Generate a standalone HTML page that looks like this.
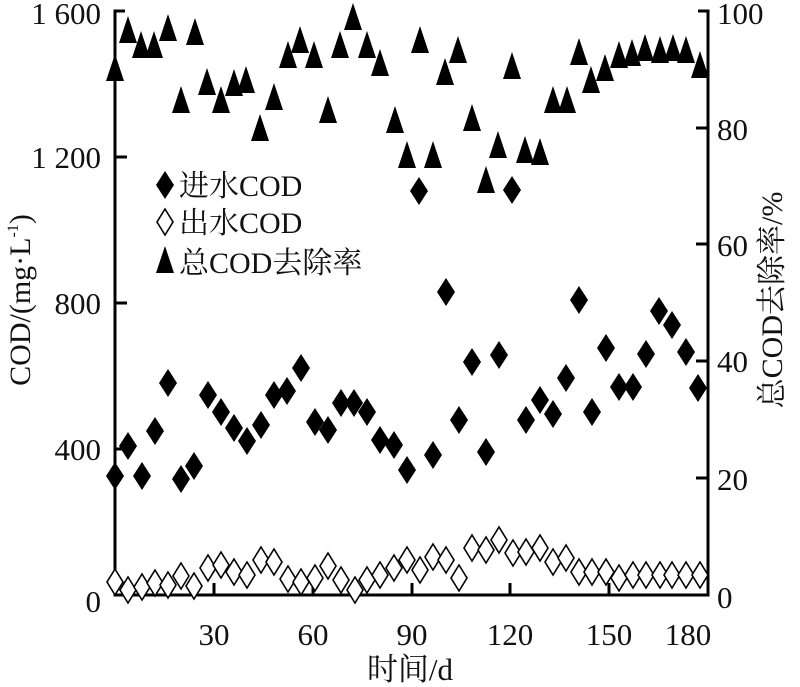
<!DOCTYPE html>
<html><head><meta charset="utf-8"><style>
body{margin:0;background:#fff;}
svg{display:block;}
text{font-family:"Liberation Serif","Noto Serif CJK SC",serif;fill:#111;}
</style></head><body>
<svg width="800" height="687" viewBox="0 0 800 687" xmlns="http://www.w3.org/2000/svg">
<defs>
<path id="fd" d="M0,-14 L9,0 L0,14 L-9,0 Z" fill="#000"/>
<path id="od" d="M0,-13 L8,0 L0,13 L-8,0 Z" fill="#fff" stroke="#000" stroke-width="1.6"/>
<path id="tr" d="M0,-14 L9,13 L-9,13 Z" fill="#000"/>
</defs>
<g stroke="#000" stroke-width="3" fill="none">
<path d="M125,11 L115,11 L115,595 L708,595 L708,11 L698,11"/>
<path d="M115,157 L127,157 M115,303 L127,303 M115,449 L127,449"/>
<path d="M708,128 L696,128 M708,244 L696,244 M708,361 L696,361 M708,478 L696,478"/>
<path d="M214,595 L214,583 M313,595 L313,583 M412,595 L412,583 M510,595 L510,583 M609,595 L609,583"/>
</g>
<g font-size="31" text-anchor="end">
<text x="101" y="24">1 600</text><text x="101" y="168">1 200</text>
<text x="101" y="314">800</text><text x="101" y="460">400</text><text x="101" y="612">0</text>
</g>
<g font-size="31">
<text x="717" y="24">100</text><text x="717" y="140">80</text><text x="717" y="256">60</text>
<text x="717" y="372">40</text><text x="717" y="490">20</text><text x="717" y="608">0</text>
</g>
<g font-size="31" text-anchor="middle">
<text x="214" y="645">30</text><text x="313" y="645">60</text><text x="412" y="645">90</text>
<text x="510" y="645">120</text><text x="609" y="645">150</text><text x="688" y="645">180</text>
<text x="410" y="680">时间/d</text>
</g>
<text font-size="30" text-anchor="middle" transform="translate(30,300) rotate(-90)">COD/(mg·L<tspan font-size="16" dy="-12">-1</tspan><tspan dy="12">)</tspan></text>
<text font-size="30" text-anchor="middle" transform="translate(782,300) rotate(-90)">总COD去除率/%</text>
<g>
<use href="#fd" x="165" y="185"/><use href="#od" x="165" y="222"/><use href="#tr" x="165" y="260"/>
</g>
<g font-size="30"><text x="179" y="196">进水COD</text><text x="179" y="233">出水COD</text><text x="179" y="273">总COD去除率</text></g>
<g>
<use href="#tr" x="115" y="68"/><use href="#tr" x="128" y="30"/><use href="#tr" x="141" y="45"/><use href="#tr" x="154" y="45"/><use href="#tr" x="168" y="28"/><use href="#tr" x="181" y="100"/><use href="#tr" x="195" y="32"/><use href="#tr" x="207" y="82"/><use href="#tr" x="221" y="100"/><use href="#tr" x="234" y="83"/><use href="#tr" x="246" y="80"/><use href="#tr" x="260" y="128"/><use href="#tr" x="274" y="97"/><use href="#tr" x="288" y="55"/><use href="#tr" x="300" y="40"/><use href="#tr" x="314" y="55"/><use href="#tr" x="328" y="110"/><use href="#tr" x="340" y="45"/><use href="#tr" x="353" y="17"/><use href="#tr" x="367" y="45"/><use href="#tr" x="380" y="63"/><use href="#tr" x="395" y="120"/><use href="#tr" x="407" y="155"/><use href="#tr" x="420" y="40"/><use href="#tr" x="433" y="155"/><use href="#tr" x="445" y="72"/><use href="#tr" x="458" y="50"/><use href="#tr" x="472" y="118"/><use href="#tr" x="486" y="180"/><use href="#tr" x="498" y="145"/><use href="#tr" x="512" y="66"/><use href="#tr" x="525" y="150"/><use href="#tr" x="540" y="152"/><use href="#tr" x="553" y="100"/><use href="#tr" x="567" y="100"/><use href="#tr" x="579" y="52"/><use href="#tr" x="591" y="80"/><use href="#tr" x="605" y="68"/><use href="#tr" x="619" y="55"/><use href="#tr" x="632" y="53"/><use href="#tr" x="645" y="48"/><use href="#tr" x="660" y="50"/><use href="#tr" x="673" y="48"/><use href="#tr" x="686" y="50"/><use href="#tr" x="700" y="65"/>
</g>
<g>
<use href="#fd" x="115" y="476"/><use href="#fd" x="128" y="446"/><use href="#fd" x="142" y="476"/><use href="#fd" x="155" y="431"/><use href="#fd" x="168" y="383"/><use href="#fd" x="181" y="479"/><use href="#fd" x="194" y="466"/><use href="#fd" x="208" y="395"/><use href="#fd" x="221" y="412"/><use href="#fd" x="234" y="428"/><use href="#fd" x="247" y="441"/><use href="#fd" x="261" y="425"/><use href="#fd" x="274" y="395"/><use href="#fd" x="287" y="391"/><use href="#fd" x="301" y="368"/><use href="#fd" x="315" y="422"/><use href="#fd" x="328" y="430"/><use href="#fd" x="341" y="403"/><use href="#fd" x="354" y="403"/><use href="#fd" x="367" y="412"/><use href="#fd" x="380" y="440"/><use href="#fd" x="394" y="445"/><use href="#fd" x="407" y="470"/><use href="#fd" x="433" y="455"/><use href="#fd" x="419" y="191"/><use href="#fd" x="446" y="292"/><use href="#fd" x="459" y="420"/><use href="#fd" x="472" y="362"/><use href="#fd" x="486" y="452"/><use href="#fd" x="499" y="355"/><use href="#fd" x="512" y="190"/><use href="#fd" x="526" y="420"/><use href="#fd" x="540" y="400"/><use href="#fd" x="553" y="414"/><use href="#fd" x="566" y="378"/><use href="#fd" x="579" y="300"/><use href="#fd" x="592" y="412"/><use href="#fd" x="606" y="348"/><use href="#fd" x="619" y="387"/><use href="#fd" x="633" y="387"/><use href="#fd" x="646" y="354"/><use href="#fd" x="659" y="311"/><use href="#fd" x="672" y="325"/><use href="#fd" x="686" y="352"/><use href="#fd" x="698" y="388"/>
</g>
<g>
<use href="#od" x="115" y="582"/><use href="#od" x="128" y="590"/><use href="#od" x="142" y="587"/><use href="#od" x="155" y="583"/><use href="#od" x="168" y="585"/><use href="#od" x="181" y="576"/><use href="#od" x="194" y="586"/><use href="#od" x="208" y="568"/><use href="#od" x="221" y="565"/><use href="#od" x="234" y="572"/><use href="#od" x="247" y="575"/><use href="#od" x="261" y="560"/><use href="#od" x="274" y="562"/><use href="#od" x="288" y="579"/><use href="#od" x="301" y="582"/><use href="#od" x="315" y="578"/><use href="#od" x="328" y="566"/><use href="#od" x="341" y="580"/><use href="#od" x="355" y="590"/><use href="#od" x="367" y="580"/><use href="#od" x="380" y="575"/><use href="#od" x="394" y="568"/><use href="#od" x="407" y="560"/><use href="#od" x="420" y="570"/><use href="#od" x="433" y="557"/><use href="#od" x="446" y="560"/><use href="#od" x="459" y="578"/><use href="#od" x="472" y="548"/><use href="#od" x="486" y="550"/><use href="#od" x="499" y="540"/><use href="#od" x="513" y="553"/><use href="#od" x="526" y="552"/><use href="#od" x="540" y="548"/><use href="#od" x="553" y="562"/><use href="#od" x="566" y="558"/><use href="#od" x="579" y="572"/><use href="#od" x="592" y="572"/><use href="#od" x="606" y="572"/><use href="#od" x="619" y="578"/><use href="#od" x="633" y="575"/><use href="#od" x="646" y="575"/><use href="#od" x="660" y="575"/><use href="#od" x="672" y="575"/><use href="#od" x="686" y="575"/><use href="#od" x="700" y="575"/>
</g>
</svg>
</body></html>
